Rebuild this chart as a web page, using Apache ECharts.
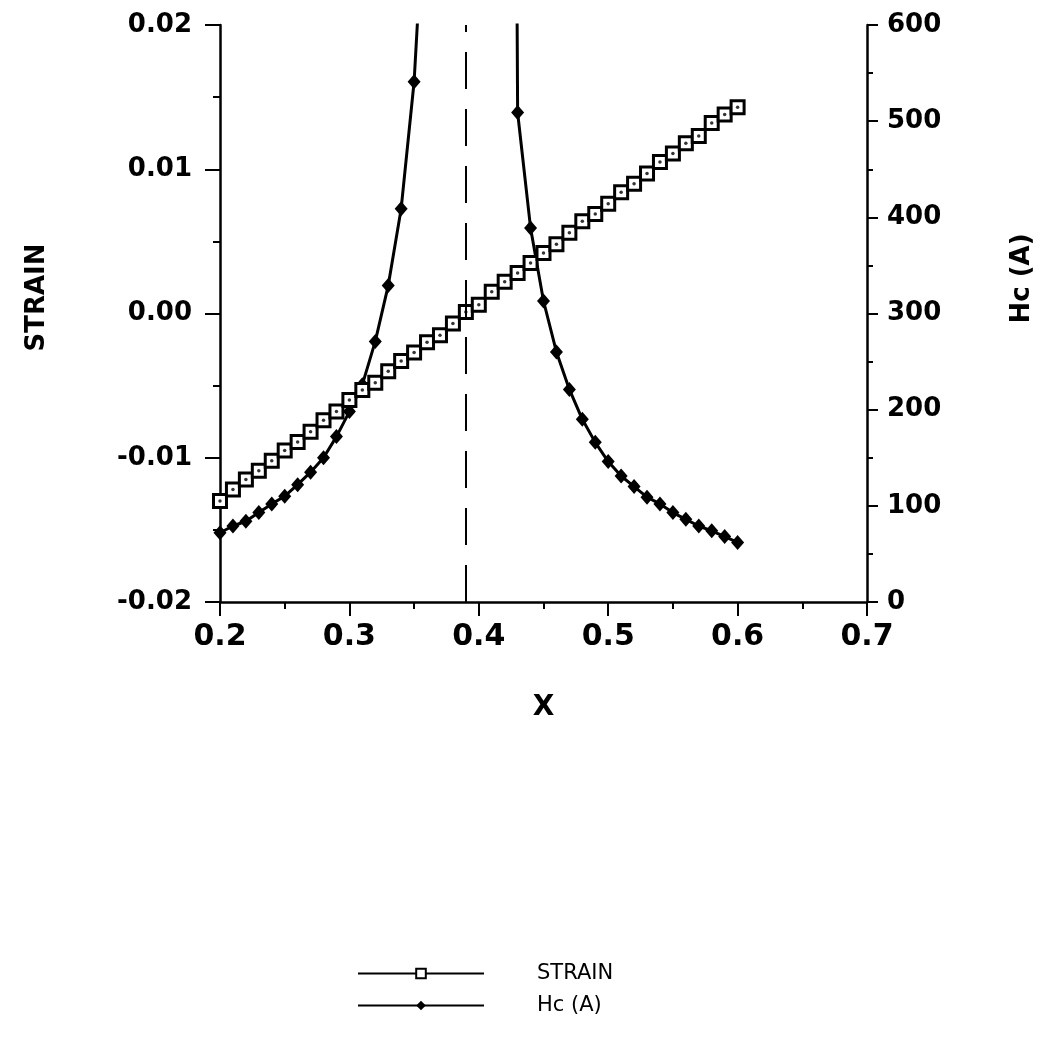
<!DOCTYPE html>
<html>
<head>
<meta charset="utf-8">
<script src="https://cdn.jsdelivr.net/npm/echarts@6/dist/echarts.min.js"></script>
<style>
html,body{margin:0;padding:0;background:#fff;}
#chart{width:1043px;height:1040px;}
</style>
</head>
<body>
<div id="chart"></div>
<script>
// ---- data ----
var xValues = [0.20,0.21,0.22,0.23,0.24,0.25,0.26,0.27,0.28,0.29,0.30,0.31,0.32,0.33,0.34,0.35,0.36,0.37,0.38,0.39,0.40,
               0.41,0.42,0.43,0.44,0.45,0.46,0.47,0.48,0.49,0.50,0.51,0.52,0.53,0.54,0.55,0.56,0.57,0.58,0.59,0.60];
var strainValues = [-0.0130,-0.0122,-0.0115,-0.0109,-0.0102,-0.0095,-0.0089,-0.0082,-0.0074,-0.0068,-0.0060,
                    -0.0053,-0.0048,-0.0040,-0.0033,-0.0027,-0.0020,-0.0015,-0.0007,0.0001,0.0006,
                    0.0015,0.0022,0.0028,0.0035,0.0042,0.0048,0.0056,0.0064,0.0069,0.0076,
                    0.0084,0.0090,0.0097,0.0105,0.0111,0.0118,0.0123,0.0132,0.0138,0.0143];
// Hc (A): null where the curve diverges (off chart, line broken)
var hcValues = [72,79,84,93,102,110,122,135,150,172,198,
                226,271,329,409,541,780,null,null,null,null,
                null,3000,509,389,313,260,221,190,166,146,
                131,120,109,102,93,86,79,74,68,62];
var dashedX = 0.388;
var xTicks = {min:0.2, max:0.7, interval:0.1};
var strainTicks = {min:-0.02, max:0.02, interval:0.01};
var hcTicks = {min:0, max:600, interval:100};
var seriesNames = ['STRAIN','Hc (A)'];

var strainData = xValues.map(function(x,i){ return [x, strainValues[i]]; });
var hcData = xValues.map(function(x,i){ return [x, hcValues[i] == null ? '-' : hcValues[i]]; });

var labelFont = 'DejaVu Sans';
var chart = echarts.init(document.getElementById('chart'), null, {renderer:'canvas'});
var axisCommon = {
  axisLine:{show:true, onZero:false, lineStyle:{color:'#000', width:2.5}},
  splitLine:{show:false},
  minorSplitLine:{show:false}
};
chart.setOption({
  backgroundColor:'#fff',
  animation:false,
  grid:{left:220, right:164, top:25, bottom:438, containLabel:false},
  xAxis:Object.assign({}, axisCommon, {
    type:'value', min:xTicks.min, max:xTicks.max, interval:xTicks.interval,
    position:'bottom',
    axisTick:{show:true, inside:false, length:14, lineStyle:{color:'#000', width:2}},
    minorTick:{show:true, splitNumber:2, length:7, lineStyle:{color:'#000', width:2}},
    axisLabel:{formatter:function(v){return v.toFixed(1);}, color:'#000', fontFamily:labelFont, fontWeight:'bold', fontSize:30, margin:20},
    name:'X', nameLocation:'middle', nameGap:92,
    nameTextStyle:{color:'#000', fontFamily:labelFont, fontWeight:'bold', fontSize:28}
  }),
  yAxis:[
    Object.assign({}, axisCommon, {
      type:'value', min:strainTicks.min, max:strainTicks.max, interval:strainTicks.interval,
      position:'left',
      axisTick:{show:true, inside:false, length:15, lineStyle:{color:'#000', width:2}},
      minorTick:{show:true, splitNumber:2, length:7, lineStyle:{color:'#000', width:2}},
      axisLabel:{formatter:function(v){return v.toFixed(2);}, color:'#000', fontFamily:labelFont, fontWeight:'bold', fontSize:26, margin:28},
      name:'STRAIN', nameLocation:'middle', nameGap:170, nameRotate:90,
      nameTextStyle:{color:'#000', fontFamily:labelFont, fontWeight:'bold', fontSize:26, padding:[0,0,0,32]}
    }),
    Object.assign({}, axisCommon, {
      type:'value', min:hcTicks.min, max:hcTicks.max, interval:hcTicks.interval,
      position:'right',
      axisTick:{show:true, inside:false, length:11, lineStyle:{color:'#000', width:2}},
      minorTick:{show:true, splitNumber:2, length:6, lineStyle:{color:'#000', width:2}},
      axisLabel:{color:'#000', fontFamily:labelFont, fontWeight:'bold', fontSize:26, margin:20},
      name:'Hc (A)', nameLocation:'middle', nameGap:142, nameRotate:90,
      nameTextStyle:{color:'#000', fontFamily:labelFont, fontWeight:'bold', fontSize:26, padding:[0,0,0,70]}
    })
  ],
  legend:{
    show:true, orient:'vertical', left:352, top:958,
    itemWidth:126, itemHeight:12, itemGap:11,
    data:seriesNames,
    textStyle:{color:'#000', fontFamily:labelFont, fontSize:21, padding:[0,0,0,48]}
  },
  series:[
    {
      name:seriesNames[0], type:'line', xAxisIndex:0, yAxisIndex:0,
      data:strainData, symbol:'rect', symbolSize:13, showAllSymbol:true,
      itemStyle:{color:'#fff', borderColor:'#000', borderWidth:3},
      lineStyle:{color:'#000', width:2.5},
      z:3,
      markLine:{
        silent:true, symbol:'none', label:{show:false},
        lineStyle:{color:'#000', width:2, type:[37,20]},
        data:[{xAxis:dashedX}]
      }
    },
    {
      name:'strainDot', type:'scatter', xAxisIndex:0, yAxisIndex:0,
      data:strainData, symbol:'circle', symbolSize:3.5,
      itemStyle:{color:'#000'}, silent:true, z:4
    },
    {
      name:seriesNames[1], type:'line', xAxisIndex:0, yAxisIndex:1,
      data:hcData, symbol:'diamond', symbolSize:[13,15], showAllSymbol:true,
      connectNulls:false, clip:true,
      itemStyle:{color:'#000'},
      lineStyle:{color:'#000', width:3},
      z:2
    }
  ]
});
</script>
</body>
</html>
